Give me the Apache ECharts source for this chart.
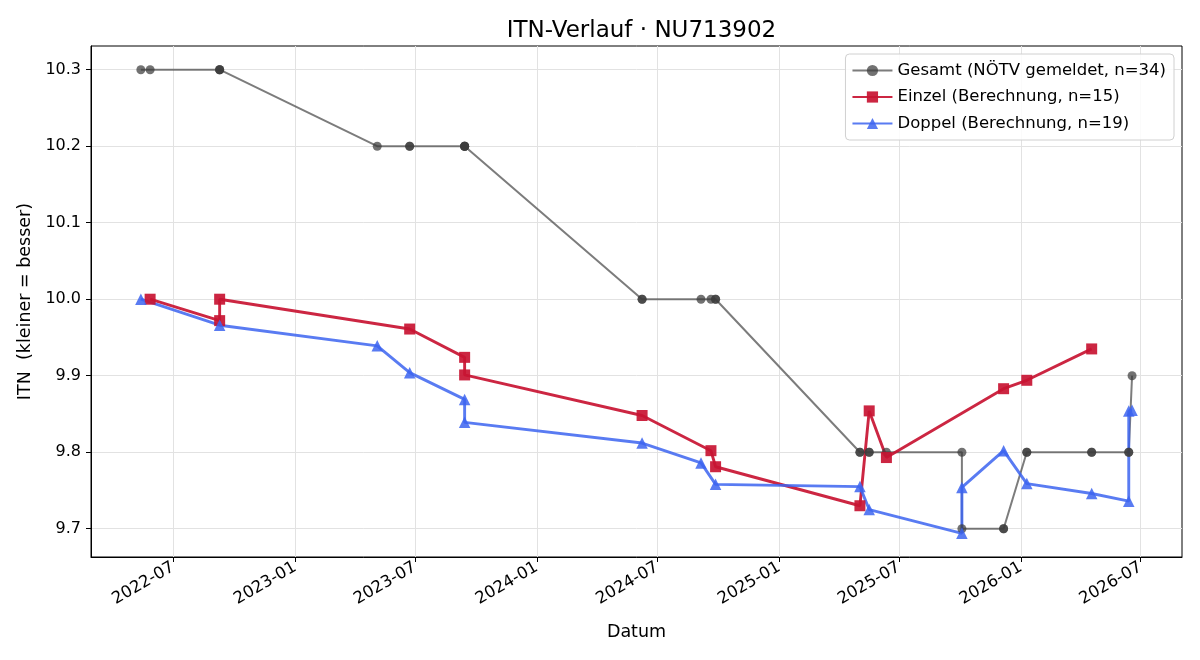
<!DOCTYPE html>
<html>
<head>
<meta charset="utf-8">
<script src="https://cdn.jsdelivr.net/npm/echarts@6/dist/echarts.min.js"></script>
<style>
html,body{margin:0;padding:0;background:#fff;}
#chart{width:1200px;height:660px;}
</style>
</head>
<body>
<div id="chart"></div>
<script>
// ---- Data ----
const gesamtDates = ['2022-05-13','2022-05-27','2022-09-09','2022-09-09','2022-09-09','2023-05-05','2023-06-23','2023-06-23','2023-09-14','2023-09-14','2023-09-14','2023-09-14','2024-06-08','2024-06-08','2024-09-05','2024-09-20','2024-09-27','2024-09-27','2025-05-03','2025-05-03','2025-05-17','2025-05-17','2025-06-12','2025-10-04','2025-10-04','2025-12-06','2025-12-06','2026-01-10','2026-01-10','2026-04-18','2026-04-18','2026-06-13','2026-06-13','2026-06-18'];
const gesamtValues = [10.3,10.3,10.3,10.3,10.3,10.2,10.2,10.2,10.2,10.2,10.2,10.2,10.0,10.0,10.0,10.0,10.0,10.0,9.8,9.8,9.8,9.8,9.8,9.8,9.7,9.7,9.7,9.8,9.8,9.8,9.8,9.8,9.8,9.9];

const einzelDates = ['2022-05-27','2022-09-09','2022-09-09','2023-06-23','2023-09-14','2023-09-14','2024-06-08','2024-09-20','2024-09-27','2025-05-03','2025-05-17','2025-06-12','2025-12-06','2026-01-10','2026-04-18'];
const einzelValues = [10.0,9.972,10.0,9.961,9.924,9.901,9.848,9.802,9.781,9.730,9.854,9.793,9.883,9.894,9.935];

const doppelDates = ['2022-05-13','2022-09-09','2023-05-05','2023-06-23','2023-09-14','2023-09-14','2024-06-08','2024-09-05','2024-09-27','2025-05-03','2025-05-17','2025-10-04','2025-10-04','2025-12-06','2026-01-10','2026-04-18','2026-06-13','2026-06-13','2026-06-18'];
const doppelValues = [10.0,9.966,9.939,9.904,9.869,9.839,9.812,9.786,9.758,9.755,9.725,9.694,9.754,9.802,9.759,9.746,9.736,9.854,9.855];

const xTickLabels = ['2022-07','2023-01','2023-07','2024-01','2024-07','2025-01','2025-07','2026-01','2026-07'];
const yTickValues = [9.7,9.8,9.9,10.0,10.1,10.2,10.3];

const seriesNames = ['Gesamt (NÖTV gemeldet, n=34)','Einzel (Berechnung, n=15)','Doppel (Berechnung, n=19)'];

// ---- Build ----
function toTs(s){ const p=s.split('-').map(Number); return Date.UTC(p[0],p[1]-1,p[2]||1); }
function pairs(d,v){ return d.map((x,i)=>[toTs(x),v[i]]); }
const xTicks = xTickLabels.map(toTs);
const FONT = 'DejaVu Sans';

const chart = echarts.init(document.getElementById('chart'), null, {renderer:'canvas'});
chart.setOption({
  backgroundColor:'#fff',
  animation:false,
  title:{
    text:'ITN-Verlauf · NU713902',
    left:636.5, top:15, textAlign:'center',
    textStyle:{fontFamily:FONT,fontSize:23,fontWeight:'normal',color:'#000'}
  },
  legend:{
    orient:'vertical', right:26, top:54,
    itemWidth:40, itemHeight:14, itemGap:9.5,
    padding:[8,8,8,6],
    borderColor:'#d0d0d0', borderWidth:1, borderRadius:4,
    backgroundColor:'rgba(255,255,255,0.85)',
    textStyle:{fontFamily:FONT,fontSize:16.5,color:'#000'},
    data:seriesNames
  },
  grid:{left:91,right:18,top:46,bottom:103,show:true,borderColor:'#000',borderWidth:1,backgroundColor:'transparent'},
  xAxis:{
    type:'value',
    min:Date.UTC(2022,1,26,17),
    max:Date.UTC(2026,8,1,10),
    name:'Datum', nameLocation:'middle', nameGap:66,
    nameTextStyle:{fontFamily:FONT,fontSize:17.5,color:'#000'},
    axisLine:{show:true,lineStyle:{color:'#000',width:1}},
    axisTick:{show:true,length:5,inside:false,customValues:xTicks,lineStyle:{color:'#000'}},
    axisLabel:{
      customValues:xTicks, rotate:30, margin:9,
      fontFamily:FONT,fontSize:16.5,color:'#000',
      formatter:function(v){const d=new Date(v);return d.getUTCFullYear()+'-'+String(d.getUTCMonth()+1).padStart(2,'0');}
    },
    splitLine:{show:true,lineStyle:{color:'#e2e2e2',width:1}}
  },
  yAxis:{
    type:'value', min:9.663, max:10.331,
    name:'ITN  (kleiner = besser)', nameLocation:'middle', nameGap:56,
    nameTextStyle:{fontFamily:FONT,fontSize:17.5,color:'#000'},
    axisLine:{show:true,lineStyle:{color:'#000',width:1}},
    axisTick:{show:true,length:5,inside:false,customValues:yTickValues,lineStyle:{color:'#000'}},
    axisLabel:{customValues:yTickValues,margin:10,fontFamily:FONT,fontSize:16,color:'#000',
      formatter:function(v){return Number(v).toFixed(1);}},
    splitLine:{show:true,lineStyle:{color:'#e2e2e2',width:1}}
  },
  series:[
    {
      name:seriesNames[0], type:'line', data:pairs(gesamtDates,gesamtValues),
      symbol:'circle', symbolSize:9, showAllSymbol:true,
      lineStyle:{color:'rgba(68,68,68,0.7)',width:2},
      itemStyle:{color:'rgba(60,60,60,0.72)',borderWidth:0}
    },
    {
      name:seriesNames[1], type:'line', data:pairs(einzelDates,einzelValues),
      symbol:'rect', symbolSize:11, showAllSymbol:true,
      lineStyle:{color:'rgba(200,20,50,0.92)',width:2.9},
      itemStyle:{color:'rgba(200,20,50,0.92)',borderWidth:0}
    },
    {
      name:seriesNames[2], type:'line', data:pairs(doppelDates,doppelValues),
      symbol:'triangle', symbolSize:11.5, showAllSymbol:true,
      lineStyle:{color:'rgba(60,100,240,0.85)',width:2.9},
      itemStyle:{color:'rgba(60,100,240,0.85)',borderWidth:0}
    }
  ]
});
</script>
</body>
</html>
